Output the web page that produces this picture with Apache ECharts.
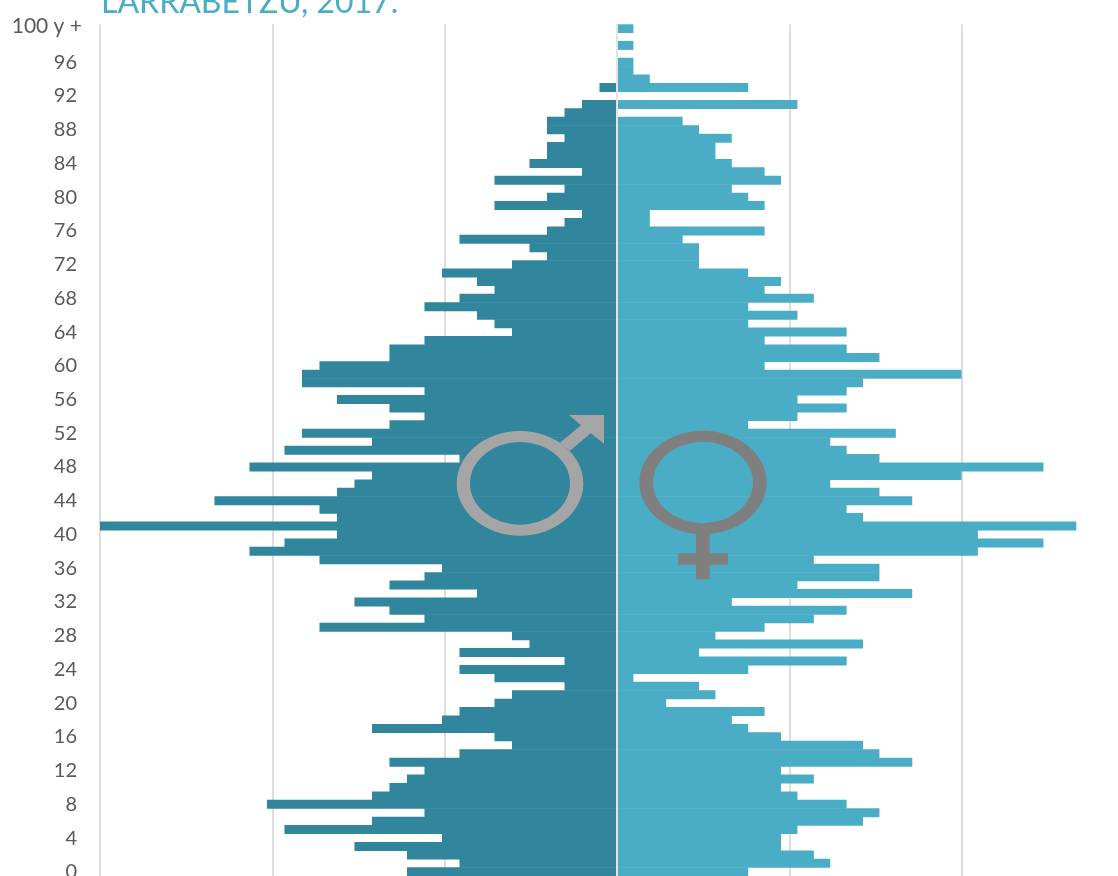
<!DOCTYPE html>
<html>
<head>
<meta charset="utf-8">
<style>html,body{margin:0;padding:0;background:#fff}#c{width:1118px;height:876px}</style>
<script src="https://cdn.jsdelivr.net/npm/echarts@6/dist/echarts.min.js"></script>
</head>
<body>
<div id="c"></div>
<script>
// Ages listed from oldest (100 y +) to youngest (0)
const ages = ['100 y +'];
for (let a = 99; a >= 0; a--) ages.push(String(a));

const malePeople = [
  0,0,0,0,0,0,0,1,0,2,
  3,4,4,3,4,4,5,2,7,3,
  4,7,2,3,4,9,5,4,6,10,
  8,7,9,11,8,7,6,11,13,13,
  17,18,18,11,16,13,11,13,18,14,
  19,9,21,14,15,16,23,17,16,30,
  16,19,21,17,10,11,13,8,15,13,
  11,17,6,5,9,3,9,7,3,6,
  7,9,10,14,7,6,9,13,11,12,
  13,14,20,11,14,19,10,15,12,9,12
];
const femalePeople = [
  1,0,1,0,1,1,2,8,0,11,
  0,4,5,7,6,6,7,9,10,7,
  8,9,2,2,9,4,5,5,5,8,
  10,9,12,8,11,8,14,9,14,16,
  9,21,15,14,11,14,11,8,17,13,
  14,16,26,21,13,16,18,14,15,28,
  22,26,22,12,16,16,11,18,7,14,
  12,9,6,15,5,14,8,1,5,6,
  3,9,7,8,10,15,16,18,10,12,
  10,11,14,16,15,11,10,10,12,13,8
];
// One person as a percentage of each sex's total population
const malePctPerPerson = 0.05078;
const femalePctPerPerson = 0.04759;

const MALE = '#31859C', FEMALE = '#4BACC6', GRID = '#D9D9D9';
const MALE_SIGN = '#A5A5A5', FEMALE_SIGN = '#7F7F7F';

const ringEl = (x, y, r, r0, scaleY, fill) => ({
  type: 'ring', silent: true, z: 20, x, y, scaleY,
  shape: { cx: 0, cy: 0, r, r0 }, style: { fill }
});
const polyEl = (points, fill) => ({
  type: 'polygon', silent: true, z: 20,
  shape: { points }, style: { fill }
});

const chart = echarts.init(document.getElementById('c'), null, { renderer: 'canvas' });
chart.setOption({
  animation: false,
  backgroundColor: '#fff',
  title: {
    text: 'LARRABETZU, 2017.',
    left: 96, top: -18,
    textStyle: { fontFamily: 'Lato', fontWeight: 'normal', fontSize: 32, color: FEMALE }
  },
  grid: { left: 100, top: 24.3, width: 1034, height: 851.7, containLabel: false, outerBoundsMode: 'none' },
  xAxis: {
    type: 'value', min: -1.5, max: 1.5, interval: 0.5,
    axisLabel: { show: false }, axisLine: { show: false }, axisTick: { show: false },
    splitLine: { show: true, lineStyle: { color: GRID, width: 1.75 } }
  },
  yAxis: {
    type: 'category', inverse: true, data: ages,
    axisLine: { show: false, onZero: false }, axisTick: { show: false },
    axisLabel: {
      margin: 18, hideOverlap: false,
      interval: i => i % 4 === 0,
      formatter: v => v === ages[0] ? `{t|${v}}` : `{n|${v}}`,
      rich: {
        t: { fontFamily: 'Lato', fontSize: 21, color: '#595959', padding: [0, 0, 4, 0] },
        n: { fontFamily: 'Lato', fontSize: 20, color: '#595959', padding: [0, 5, 0, 0] }
      }
    }
  },
  series: [
    {
      name: 'Gizonak', type: 'bar', barGap: '-100%', barWidth: 9,
      data: malePeople.map(v => -v * malePctPerPerson),
      itemStyle: { color: MALE }
    },
    {
      name: 'Emakumeak', type: 'bar', barWidth: 9,
      data: femalePeople.map(v => v * femalePctPerPerson),
      itemStyle: { color: FEMALE },
      markLine: {
        silent: true, symbol: 'none', animation: false, z: 10,
        label: { show: false },
        lineStyle: { color: '#E4E4E4', width: 2, type: 'solid' },
        data: [{ xAxis: 0 }]
      }
    }
  ],
  graphic: [
    ringEl(520, 483.4, 63.3, 50, 0.826, MALE_SIGN),
    polyEl([[569,415],[604,415],[604,443.7],[590.7,433.3],[570,450.7],[560,442.7],[581,425.3]], MALE_SIGN),
    ringEl(703, 482.5, 63.7, 50, 0.813, FEMALE_SIGN),
    polyEl([[696,533],[709.7,533],[709.7,553.3],[728,553.3],[728,564.7],[709.7,564.7],[709.7,579.3],[696,579.3],[696,564.7],[678,564.7],[678,553.3],[696,553.3]], FEMALE_SIGN)
  ]
});
</script>
</body>
</html>
